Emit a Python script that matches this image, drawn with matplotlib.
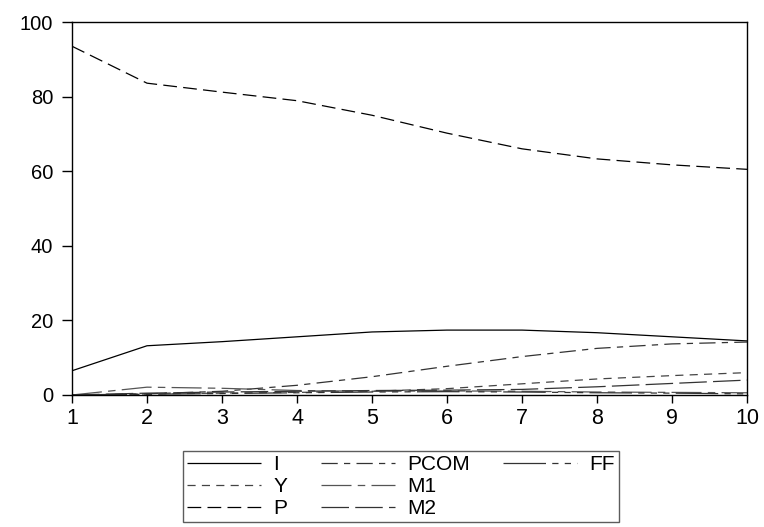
import matplotlib
matplotlib.use("Agg")
import matplotlib.pyplot as plt
from matplotlib.lines import Line2D

periods = [1, 2, 3, 4, 5, 6, 7, 8, 9, 10]
I_vals = [6.5, 13.2, 14.3, 15.6, 16.9, 17.4, 17.4, 16.7, 15.6, 14.5]
Y_vals = [0.0, 0.3, 0.5, 0.7, 1.0, 1.7, 3.0, 4.3, 5.2, 6.0]
P_vals = [93.5, 83.6, 81.2, 78.9, 75.0, 70.2, 66.0, 63.3, 61.7, 60.5]
PCOM_vals = [0.0, 0.3, 1.0, 2.6, 4.9, 7.7, 10.3, 12.5, 13.7, 14.2]
M1_vals = [0.0, 2.1, 1.8, 1.2, 1.0, 1.1, 1.0, 0.8, 0.7, 0.6]
M2_vals = [0.0, 0.5, 0.8, 1.0, 1.2, 1.3, 1.5, 2.2, 3.1, 4.0]
FF_vals = [0.0, 0.2, 0.4, 0.6, 0.8, 0.9, 0.8, 0.6, 0.5, 0.3]
y_ticks = [0, 20, 40, 60, 80, 100]

plt.rcParams['font.family'] = ['Liberation Sans', 'DejaVu Sans']

fig = plt.figure(figsize=(7.64, 5.27), dpi=100)
ax = fig.add_axes([72/764, 1-395/527, (747-72)/764, (395-22)/527])

lw = 0.9
series = [
    ("I", I_vals, "black", (0, ())),
    ("Y", Y_vals, "#444444", (0, (6.5, 5))),
    ("P", P_vals, "black", (0, (11, 5))),
    ("PCOM", PCOM_vals, "#333333", (0, (13, 5, 5, 5))),
    ("M1", M1_vals, "#555555", (0, (24, 5, 6, 5))),
    ("M2", M2_vals, "#333333", (0, (22, 5))),
    ("FF", FF_vals, "#333333", (0, (34, 5, 5, 5, 5, 5, 5, 5))),
]
handles = []
for name, vals, col, ls in series:
    h, = ax.plot(periods, vals, color=col, linestyle=ls, linewidth=lw, label=name)
    handles.append(h)
labels = [s[0] for s in series]
# two blank slots so that the third column holds only FF
blank = Line2D([], [], linestyle='none')
handles += [blank, blank]
labels += ['', '']

ax.set_xlim(1, 10)
ax.set_ylim(0, 100)
ax.set_xticks(periods)
ax.set_yticks(y_ticks)
ax.tick_params(axis='y', direction='out', length=7, width=1, labelsize=14.5, pad=6.5)
ax.tick_params(axis='x', direction='out', length=6, width=1, labelsize=15.5, pad=3.5)
for s in ax.spines.values():
    s.set_linewidth(1.0)

leg = fig.legend(handles, labels, loc='center', bbox_to_anchor=(401/764, 1-486.5/527), ncol=3,
                 fontsize=15, frameon=True, fancybox=False, handlelength=3.55,
                 handletextpad=0.58, labelspacing=0.15, columnspacing=1.6,
                 borderpad=0.2, borderaxespad=0)
leg.get_frame().set_edgecolor('#333333')
leg.get_frame().set_linewidth(1.0)

fig.savefig("out.png", dpi=100)
